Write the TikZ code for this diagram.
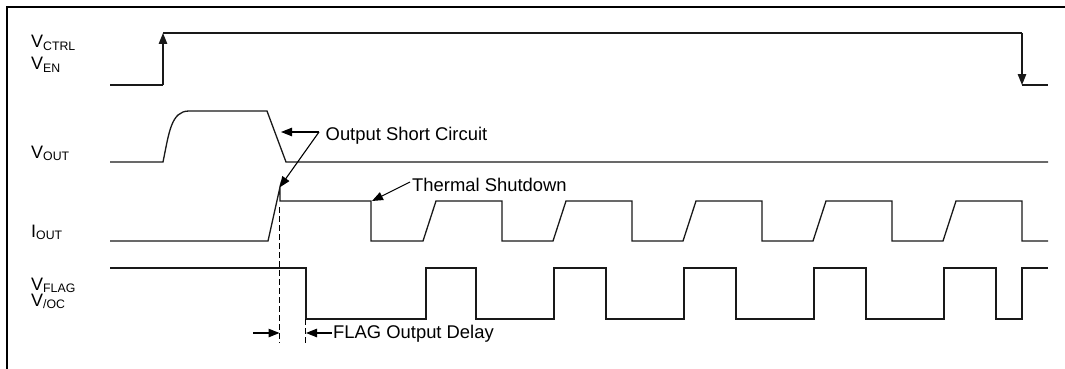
\documentclass[tikz,border=0pt]{standalone}
\usepackage{fontspec}
\setmainfont{Liberation Sans}
\usetikzlibrary{arrows.meta}
\tikzset{
  sig/.style={line width=1.3pt, black!90},
  frameline/.style={line width=1.6pt, black},
  tipped/.style={-{Triangle[length=11pt,width=8.5pt]}},
  anntip/.style={line width=1.1pt, -{Triangle[length=11pt,width=8.5pt]}},
  guide/.style={line width=1.5pt, black, dash pattern=on 6pt off 3pt},
  lbl/.style={anchor=base west, inner sep=0pt, font=\fontsize{18.4}{20}\selectfont},
  signame/.style={anchor=base west, inner sep=0pt, font=\fontsize{18}{20}\selectfont},
}
\newcommand{\sbs}[1]{\raisebox{-2.5pt}{\fontsize{12.3}{12}\selectfont #1}}
\begin{document}
\begin{tikzpicture}[x=1pt,y=-1pt]
\useasboundingbox (0,0) rectangle (1065,369);
% frame
\draw[frameline] (7,369) -- (7,7) -- (1065,7);
% signal names
\node[signame] (nctrl) at (31,48) {V\sbs{CTRL}};
\node[signame] (nen) at (31,70) {V\sbs{EN}};
\node[signame] (nvout) at (31,158) {V\sbs{OUT}};
\node[signame] (niout) at (31,237) {I\sbs{OUT}};
\node[signame] (nflag) at (31,290) {V\sbs{FLAG}};
\node[signame] (noc) at (31,306) {V\sbs{/OC}};
% VCTRL / VEN
\coordinate (c0) at (110,85);
\coordinate (c1) at (163,85);
\coordinate (c2) at (163,33);
\coordinate (c3) at (1022,33);
\coordinate (c4) at (1022,85);
\coordinate (c5) at (1048,85);
\draw[sig] (c0) -- (c1);
\draw[sig,tipped] (c1) -- (c2);
\draw[sig] (c2) -- (c3);
\draw[sig,tipped] (c3) -- (c4);
\draw[sig] (c4) -- (c5);
% VOUT
\draw[sig] (110,162) -- (163,162) .. controls (169,133) and (171,111) .. (189,111)
  -- (267,111) -- (286,162) -- (1048,162);
% IOUT
\draw[sig] (110,241) -- (268,241) -- (280,187) -- (280,201) -- (371,201) -- (371,241)
  -- (423,241) -- (436,201) -- (502,201) -- (502,241)
  -- (553,241) -- (566,201) -- (632,201) -- (632,241)
  -- (683,241) -- (696,201) -- (762,201) -- (762,241)
  -- (813,241) -- (826,201) -- (892,201) -- (892,241)
  -- (943,241) -- (956,201) -- (1022,201) -- (1022,241) -- (1048,241);
% VFLAG
\draw[sig] (110,268) -- (306,268) -- (306,319) -- (426,319) -- (426,268)
  -- (476,268) -- (476,319) -- (554,319) -- (554,268)
  -- (606,268) -- (606,319) -- (684,319) -- (684,268)
  -- (736,268) -- (736,319) -- (814,319) -- (814,268)
  -- (866,268) -- (866,319) -- (944,319) -- (944,268)
  -- (996,268) -- (996,319) -- (1022,319) -- (1022,268) -- (1048,268);
% dashed guides
\coordinate (d1a) at (279.5,207);
\coordinate (d1b) at (279.5,343);
\coordinate (d2a) at (305.7,319);
\coordinate (d2b) at (305.7,343);
\draw[guide] (d1a) -- (d1b);
\draw[guide] (d2a) -- (d2b);
% Output Short Circuit
\node[lbl] (osc) at (325.5,140) {Output Short Circuit};
\coordinate (oscj) at (319,132);
\coordinate (osct1) at (281,132);
\coordinate (osct2) at (279.5,187.5);
\draw[anntip] (oscj) -- (osct1);
\draw[anntip] (oscj) -- (osct2);
% Thermal Shutdown
\node[lbl] (ts) at (412,191) {Thermal Shutdown};
\coordinate (tsj) at (410,182);
\coordinate (tst) at (372,201);
\draw[anntip] (tsj) -- (tst);
% FLAG Output Delay
\node[lbl] (fod) at (333,338) {FLAG Output Delay};
\coordinate (fodj) at (331.5,333);
\coordinate (fodt) at (306,333);
\coordinate (fodl) at (253,333);
\coordinate (fodlt) at (279.5,333);
\draw[anntip] (fodj) -- (fodt);
\draw[anntip] (fodl) -- (fodlt);
\end{tikzpicture}
\end{document}
